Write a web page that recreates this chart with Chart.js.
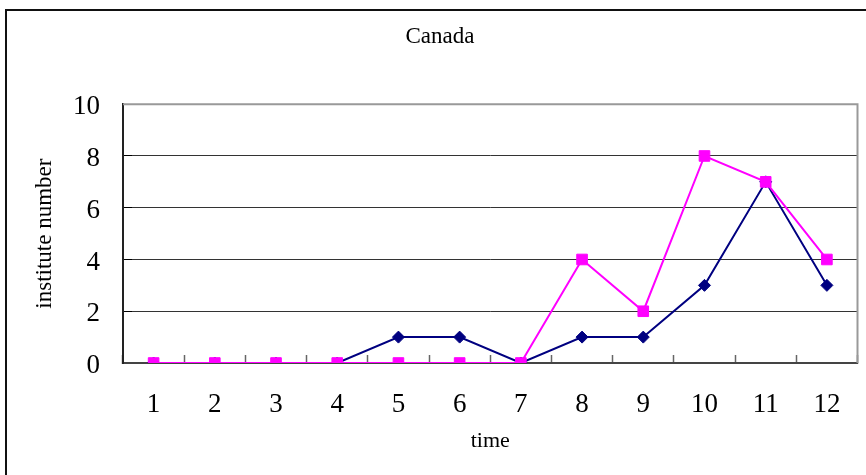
<!DOCTYPE html>
<html>
<head>
<meta charset="utf-8">
<script src="https://cdn.jsdelivr.net/npm/chart.js@4/dist/chart.umd.min.js"></script>
<style>
  html, body { margin: 0; padding: 0; background: #fff; overflow: hidden; }
  #wrap { position: relative; width: 866px; height: 475px; }
  #frame { position: absolute; left: 5px; top: 9px; width: 1000px; height: 1000px; border: 2px solid #111; z-index: 0; }
  canvas { position: absolute; left: 0; top: 0; z-index: 1; }
</style>
</head>
<body>
<div id="wrap">
  <div id="frame"></div>
  <canvas id="c" width="866" height="475"></canvas>
</div>
<script>
const categories = ['1','2','3','4','5','6','7','8','9','10','11','12'];
const seriesNavy = [0,0,0,0,1,1,0,1,1,3,7,3];
const seriesMagenta = [0,0,0,0,0,0,0,4,2,8,7,4];
const yTicks = [0,2,4,6,8,10];
const chartTitle = 'Canada';
const xTitle = 'time';
const yTitle = 'institute number';

const SERIF = '"Liberation Serif", "Times New Roman", serif';

const plotBorder = {
  id: 'plotBorder',
  beforeDatasetsDraw(chart) {
    const a = chart.chartArea, ctx = chart.ctx;
    ctx.save();
    ctx.strokeStyle = '#999';
    ctx.lineWidth = 2;
    ctx.beginPath();
    ctx.moveTo(a.left, a.top);
    ctx.lineTo(a.right, a.top);
    ctx.lineTo(a.right, a.bottom);
    ctx.stroke();
    ctx.restore();
  }
};

new Chart(document.getElementById('c'), {
  type: 'line',
  data: {
    labels: categories,
    datasets: [
      {
        label: 'A',
        data: seriesNavy,
        borderColor: '#000080',
        backgroundColor: '#000080',
        borderWidth: 2,
        pointStyle: 'rectRot',
        pointRadius: 6,
        pointBorderWidth: 1,
        pointBackgroundColor: '#000080',
        pointBorderColor: '#000080',
        tension: 0,
        order: 1
      },
      {
        label: 'B',
        data: seriesMagenta,
        borderColor: '#FF00FF',
        backgroundColor: '#FF00FF',
        borderWidth: 2,
        pointStyle: 'rect',
        pointRadius: 7.5,
        pointBorderWidth: 1,
        pointBackgroundColor: '#FF00FF',
        pointBorderColor: '#FF00FF',
        tension: 0,
        order: 0
      }
    ]
  },
  options: {
    responsive: false,
    animation: false,
    events: [],
    layout: { padding: { left: 22, right: 8, top: 0, bottom: 0 } },
    plugins: {
      legend: { display: false },
      tooltip: { enabled: false },
      title: {
        display: true,
        text: chartTitle,
        color: '#000',
        font: { family: SERIF, size: 23, weight: 'normal', lineHeight: 1.2 },
        padding: { top: 23, bottom: 53.6 }
      }
    },
    scales: {
      x: {
        type: 'category',
        offset: true,
        grid: {
          offset: true,
          drawOnChartArea: false,
          drawTicks: true,
          tickLength: -8,
          tickColor: '#666',
          tickWidth: 1.5
        },
        border: { display: true, color: '#444', width: 2 },
        ticks: {
          color: '#000',
          font: { family: SERIF, size: 27, lineHeight: 1.2 },
          padding: 34,
          maxRotation: 0,
          autoSkip: false
        },
        title: {
          display: true,
          text: xTitle,
          color: '#000',
          font: { family: SERIF, size: 22, lineHeight: 1.2 },
          padding: { top: 0, bottom: 21 }
        },
        afterFit(scale) {
          scale.height = 475 - 363;
          scale.paddingLeft = 0;
          scale.paddingRight = 0;
        }
      },
      y: {
        min: 0,
        max: 10,
        afterBuildTicks(scale) { scale.ticks = yTicks.map(v => ({ value: v })); },
        grid: {
          drawOnChartArea: true,
          drawTicks: true,
          tickLength: -9,
          tickColor: '#000',
          color: (ctx) => {
            const v = ctx.tick ? ctx.tick.value : null;
            if (v === 0) return 'rgba(0,0,0,0)';
            if (v === 10) return '#999';
            return '#333';
          },
          lineWidth: 1
        },
        border: { display: true, color: '#222', width: 2 },
        ticks: {
          color: '#000',
          font: { family: SERIF, size: 27, lineHeight: 1.2 },
          padding: 32,
          labelOffset: 3
        },
        title: {
          display: true,
          text: yTitle,
          color: '#000',
          font: { family: SERIF, size: 23, lineHeight: 1.2 },
          padding: { top: 9, bottom: 0 }
        },
        afterFit(scale) {
          scale.width = 123 - 22;
          scale.paddingTop = 0;
          scale.paddingBottom = 0;
        }
      }
    }
  },
  plugins: [plotBorder]
});
</script>
</body>
</html>
